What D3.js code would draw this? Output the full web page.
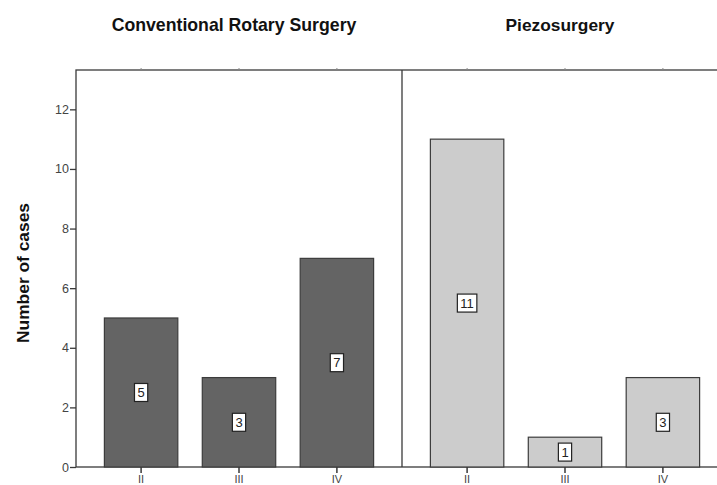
<!DOCTYPE html>
<html>
<head>
<meta charset="utf-8">
<script src="https://cdn.jsdelivr.net/npm/d3@7"></script>
<style>
  html, body { margin: 0; padding: 0; background: #fff; }
  svg { display: block; }
  text { font-family: "Liberation Sans", Arial, Helvetica, sans-serif; }
</style>
</head>
<body>
<svg id="chart" width="717" height="485"></svg>
<script>
const panels = ["Conventional Rotary Surgery", "Piezosurgery"];
const categories = ["II", "III", "IV"];
const rotaryValues = [5, 3, 7];
const piezoValues = [11, 1, 3];
const yTicks = [0, 2, 4, 6, 8, 10, 12];
const yLabel = "Number of cases";
const panelColors = ["#646464", "#cccccc"];

(function () {
const svg = d3.select("#chart");
const plotLeft = 76, plotTop = 70, plotBottom = 467, panelW = 326;

const y = d3.scaleLinear().domain([0, 13.32]).range([plotBottom, plotTop]);
const panelX = d3.scaleBand().domain(panels).range([plotLeft, plotLeft + 2 * panelW]).padding(0);
const x = d3.scaleBand().domain(categories).range([0, panelW]).paddingInner(0.25).paddingOuter(0.29);

const seriesByPanel = [rotaryValues, piezoValues];

const axisColor = "#3a3a3a";
svg.append("rect")
  .attr("x", plotLeft).attr("y", plotTop)
  .attr("width", 2 * panelW).attr("height", plotBottom - plotTop)
  .attr("fill", "none").attr("stroke", axisColor).attr("stroke-width", 1.3);

panels.forEach((p, i) => {
  const g = svg.append("g").attr("transform", `translate(${panelX(p)},0)`);
  const vals = seriesByPanel[i];
  g.selectAll("rect.bar").data(categories).enter().append("rect")
    .attr("class", "bar")
    .attr("x", d => x(d))
    .attr("y", (d, j) => y(vals[j]))
    .attr("width", x.bandwidth())
    .attr("height", (d, j) => y(0) - y(vals[j]))
    .attr("fill", panelColors[i])
    .attr("stroke", "#3c3c3c").attr("stroke-width", 1.2);
  categories.forEach((c, j) => {
    const cx = x(c) + x.bandwidth() / 2;
    const cy = y(vals[j] / 2);
    const lg = g.append("g");
    const t = lg.append("text").attr("x", cx).attr("y", cy + 4.5)
      .attr("text-anchor", "middle").attr("font-size", 13).attr("fill", "#222")
      .text(vals[j]);
    const tw = t.node().getComputedTextLength();
    lg.insert("rect", "text")
      .attr("x", cx - tw / 2 - 3).attr("y", cy - 9)
      .attr("width", tw + 6).attr("height", 18)
      .attr("fill", "#fff").attr("stroke", "#222").attr("stroke-width", 1.2);
  });
  const xAxis = d3.axisBottom(x).tickSize(6).tickSizeOuter(0);
  const ax = g.append("g").attr("transform", `translate(0,${plotBottom})`).call(xAxis);
  ax.select(".domain").remove();
  ax.selectAll("line").attr("stroke", axisColor).attr("stroke-width", 1.5);
  ax.selectAll("text").attr("font-size", 11).attr("fill", "#444").attr("dy", "0.8em").attr("y", 7);
  const topAxis = d3.axisTop(x).tickSize(2).tickSizeOuter(0).tickFormat("");
  const tx = g.append("g").attr("transform", `translate(0,${plotTop})`).call(topAxis);
  tx.select(".domain").remove();
  tx.selectAll("line").attr("stroke", "#888");
  const titleX = [234, 560][i] - panelX(p);
  g.append("text").attr("class", "ptitle").attr("x", titleX).attr("y", 31)
    .attr("text-anchor", "middle").attr("font-weight", "bold").attr("font-size", 16)
    .attr("fill", "#111").text(p);
});

svg.selectAll("text.ptitle").each(function () {
  const targetW = this.textContent === panels[0] ? 245 : 109;
  const w = this.getComputedTextLength();
  d3.select(this).attr("font-size", 16 * targetW / w);
});

svg.append("line")
  .attr("x1", plotLeft + panelW).attr("x2", plotLeft + panelW)
  .attr("y1", plotTop).attr("y2", plotBottom)
  .attr("stroke", axisColor).attr("stroke-width", 1.3);

const yAxis = d3.axisLeft(y).tickValues(yTicks).tickSize(6).tickSizeOuter(0);
const ya = svg.append("g").attr("transform", `translate(${plotLeft},0)`).call(yAxis);
ya.select(".domain").remove();
ya.selectAll("line").attr("stroke", axisColor).attr("stroke-width", 1.3);
ya.selectAll("text").attr("font-size", 12.5).attr("fill", "#444").attr("x", -7);

const yl = svg.append("text")
  .attr("transform", `translate(29,273) rotate(-90)`)
  .attr("text-anchor", "middle").attr("font-weight", "bold").attr("font-size", 16)
  .attr("fill", "#111").text(yLabel);
const ylw = yl.node().getComputedTextLength();
yl.attr("font-size", 16 * 140 / ylw);
})();
</script>
</body>
</html>
